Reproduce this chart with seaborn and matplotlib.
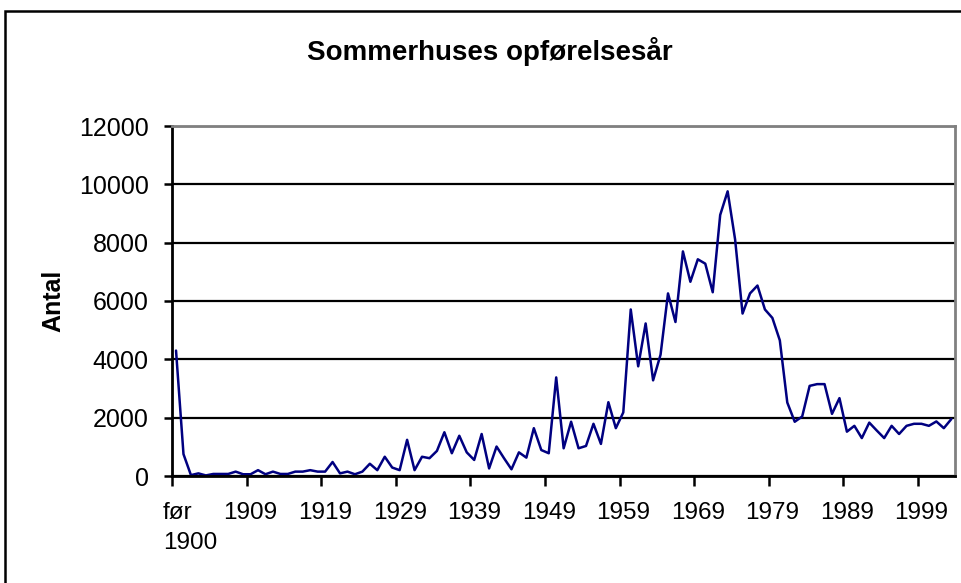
import matplotlib
matplotlib.use("Agg")
import matplotlib.pyplot as plt
import matplotlib.transforms as mtransforms
from matplotlib.patches import Rectangle
import seaborn as sns
import pandas as pd
import numpy as np

# ---- data ----
categories = ["før 1900"] + [str(y) for y in range(1900, 2004)]
antal = [4300, 750, 30, 90, 20, 70, 70, 70, 150, 60,
         60, 200, 60, 150, 70, 70, 150, 150, 200, 150,
         150, 480, 90, 150, 60, 150, 420, 200, 660, 290,
         200, 1240, 200, 660, 610, 860, 1500, 780, 1380, 810,
         550, 1440, 260, 1010, 610, 230, 810, 630, 1640, 890,
         780, 3380, 950, 1860, 950, 1030, 1790, 1100, 2530, 1640,
         2180, 5710, 3760, 5230, 3280, 4160, 6260, 5280, 7700, 6660,
         7430, 7280, 6300, 8950, 9760, 8110, 5570, 6260, 6530, 5710,
         5420, 4650, 2520, 1860, 2040, 3090, 3150, 3150, 2130, 2670,
         1520, 1720, 1300, 1830, 1560, 1300, 1720, 1440, 1720, 1790,
         1790, 1720, 1870, 1640, 1950]
y_ticks = [0, 2000, 4000, 6000, 8000, 10000, 12000]
title = "Sommerhuses opførelsesår"
ylabel = "Antal"

df = pd.DataFrame({"kategori": categories, "antal": antal})

sns.set_theme(style="white")
plt.rcParams["font.family"] = ["Liberation Sans", "DejaVu Sans"]

W, H = 961, 583
fig = plt.figure(figsize=(W / 100, H / 100), dpi=100)
fig.patch.set_facecolor("white")
ax = fig.add_axes([172.3 / W, 1 - 476 / H, (955 - 172.3) / W, (476 - 126) / H])

sns.lineplot(data=df, x="kategori", y="antal", ax=ax, color="#000080",
             linewidth=1.8, sort=False)

n = len(categories)
ax.set_xlim(-0.5, n - 0.5)
ax.set_ylim(0, 12000)
ax.set_yticks(y_ticks)
ax.set_yticklabels([str(v) for v in y_ticks])

major_pos = list(range(0, n, 10))
ax.set_xticks(major_pos)
ax.set_xticklabels([categories[i] if i else "før\n1900" for i in major_pos])
ax.set_xticks([p - 0.5 for p in major_pos], minor=True)
ax.tick_params(axis="x", which="major", length=0, pad=19, labelsize=17.5, colors="black")
ax.tick_params(axis="x", which="minor", length=7, width=1.8, color="black", direction="out", bottom=True)
ax.tick_params(axis="y", which="major", length=6, width=1.8, color="black", direction="out",
               left=True, pad=11, labelsize=18, labelcolor="black")

first = ax.get_xticklabels()[0]
first.set_horizontalalignment("left")
first.set_multialignment("left")
first.set_linespacing(1.45)
first.set_transform(first.get_transform() + mtransforms.ScaledTranslation(-13 / 100, 0, fig.dpi_scale_trans))

ax.yaxis.grid(True, color="black", linewidth=1.6)
ax.xaxis.grid(False)
for side in ["left", "bottom"]:
    ax.spines[side].set_color("black")
    ax.spines[side].set_linewidth(2)
for side in ["top", "right"]:
    ax.spines[side].set_visible(True)
    ax.spines[side].set_color("#808080")
    ax.spines[side].set_linewidth(2)

ax.set_xlabel("")
ax.set_ylabel(ylabel, fontsize=18, fontweight="bold", color="black")
ax.yaxis.set_label_coords((65 - 172.3) / (955 - 172.3), 0.5)

fig.text(490 / W, 1 - 52 / H, title, ha="center", va="center",
         fontsize=20, fontweight="bold", color="black")

fig.patches.append(Rectangle((5 / W, -0.05), 1.2, 1.05 - 11 / H, transform=fig.transFigure,
                             fill=False, edgecolor="black", linewidth=1.8))

fig.savefig("out.png", dpi=100, facecolor="white")
